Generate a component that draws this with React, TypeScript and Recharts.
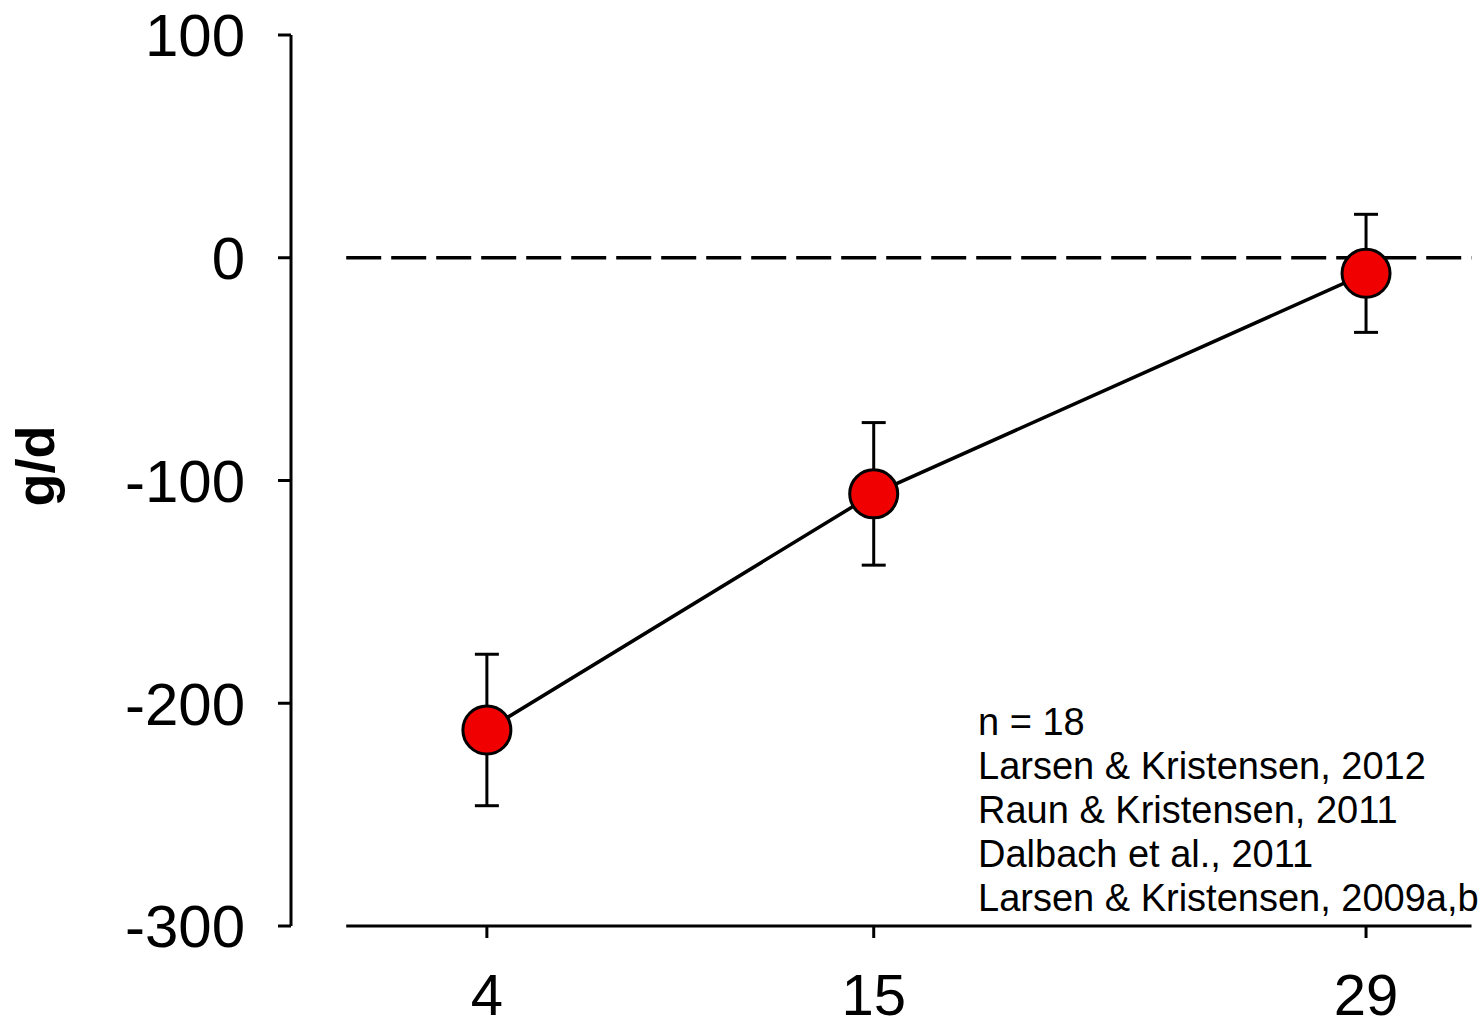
import { LineChart, Line, XAxis, YAxis, ErrorBar, ReferenceLine } from "recharts";

const days = [4, 15, 29];
const gPerDay = [-212, -106, -7];
const sem = [34, 32, 26.5];

const yTicks = [-300, -200, -100, 0, 100];
const xTicks = [4, 15, 29];

const notes = [
  "n = 18",
  "Larsen & Kristensen, 2012",
  "Raun & Kristensen, 2011",
  "Dalbach et al., 2011",
  "Larsen & Kristensen, 2009a,b",
];

const data = days.map((d, i) => ({ day: d, value: gPerDay[i], err: sem[i] }));

const FONT = "'Liberation Sans', Arial, sans-serif";

const App = () => {
  return (
    <div style={{ position: "absolute", left: 0, top: 0, background: "#fff" }}>
      <LineChart
        width={1483}
        height={1029}
        data={data}
        margin={{ top: 35, right: 9, left: 0, bottom: 0 }}
        style={{ fontFamily: FONT }}
      >
        <XAxis
          dataKey="day"
          type="number"
          domain={[-1.57, 32.07]}
          ticks={xTicks}
          height={103}
          axisLine={false}
          tickLine={{ stroke: "#000", strokeWidth: 3 }}
          tickSize={12}
          tickMargin={36}
          tick={{ fill: "#000", fontSize: 58, fontFamily: FONT }}
        />
        <YAxis
          type="number"
          domain={[-300, 100]}
          ticks={yTicks}
          width={291}
          axisLine={{ stroke: "#000", strokeWidth: 3 }}
          tickLine={{ stroke: "#000", strokeWidth: 3 }}
          tickSize={13}
          tickMargin={33}
          tick={{ fill: "#000", fontSize: 60, fontFamily: FONT }}
          label={{
            content: () => (
              <text
                x={54}
                y={466}
                transform="rotate(-90 54 466)"
                textAnchor="middle"
                fontSize={54}
                fontWeight="bold"
                fontFamily={FONT}
                fill="#000"
              >
                g/d
              </text>
            ),
          }}
        />
        <ReferenceLine
          segment={[{ x: 0, y: -300 }, { x: 32, y: -300 }]}
          stroke="#000"
          strokeWidth={3}
          ifOverflow="visible"
        />
        <ReferenceLine
          segment={[{ x: 0, y: 0 }, { x: 32, y: 0 }]}
          stroke="#000"
          strokeWidth={3.5}
          strokeDasharray="35 10"
          ifOverflow="visible"
        />
        <Line
          dataKey="value"
          stroke="#000"
          strokeWidth={3.5}
          isAnimationActive={false}
          dot={{ r: 24, fill: "#f00000", stroke: "#000", strokeWidth: 3 }}
          activeDot={false}
        >
          <ErrorBar dataKey="err" direction="y" width={12} stroke="#000" strokeWidth={3} />
        </Line>
        <g>
          {notes.map((t, i) => (
            <text key={t} x={978} y={735 + i * 44} fontSize={38} fontFamily={FONT} fill="#000">
              {t}
            </text>
          ))}
        </g>
      </LineChart>
    </div>
  );
};

export default App;
